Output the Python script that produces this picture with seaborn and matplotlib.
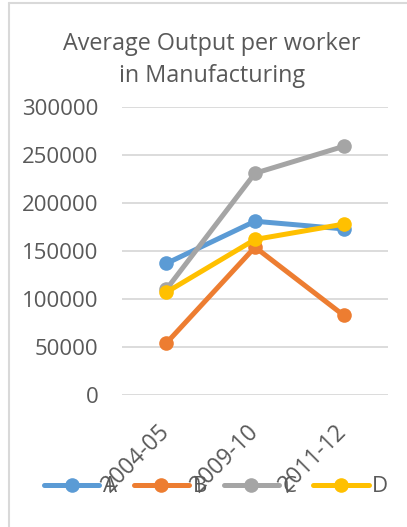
import matplotlib
matplotlib.use("Agg")
import matplotlib.pyplot as plt
from matplotlib.lines import Line2D
import seaborn as sns
import pandas as pd

periods = ["2004-05", "2009-10", "2011-12"]
series_names = ["A", "B", "C", "D"]
values_a = [137000, 181000, 173000]
values_b = [54000, 154000, 83000]
values_c = [110000, 231000, 259000]
values_d = [107000, 162000, 178000]
y_ticks = [0, 50000, 100000, 150000, 200000, 250000, 300000]
colors = ["#5B9BD5", "#ED7D31", "#A5A5A5", "#FFC000"]

rows = []
for name, vals in zip(series_names, [values_a, values_b, values_c, values_d]):
    for i, (p, v) in enumerate(zip(periods, vals)):
        rows.append({"period": p, "pos": i, "series": name, "value": v})
df = pd.DataFrame(rows)

sns.set_theme(style="white")
plt.rcParams["font.family"] = ["Open Sans", "DejaVu Sans"]
text_color = "#595959"

fig = plt.figure(figsize=(4.07, 5.27), dpi=100)
W, H = 407, 527
ax = fig.add_axes([122 / W, 1 - 395 / H, (388 - 122) / W, (395 - 107) / H])

sns.lineplot(data=df, x="pos", y="value", hue="series", palette=colors,
             marker="o", markersize=10.5, markeredgewidth=0, linewidth=3.6,
             ax=ax, legend=False, zorder=3)

ax.set_xlim(-0.5, 2.5)
ax.set_ylim(0, 300000)
ax.set_yticks(y_ticks)
ax.set_yticklabels([str(t) for t in y_ticks], fontsize=16, color=text_color)
ax.set_xticks(range(len(periods)))
ax.set_xticklabels(periods, fontsize=16.5, color=text_color, rotation=45,
                   ha="right", va="center", rotation_mode="anchor")
ax.tick_params(axis="x", length=0, pad=24)
ax.tick_params(axis="y", length=0, pad=17)
ax.grid(axis="y", color="#D9D9D9", linewidth=1.3)
ax.grid(axis="x", visible=False)
for s in ax.spines.values():
    s.set_visible(False)
ax.set_xlabel("")
ax.set_ylabel("")

fig.text(212 / W, 1 - 60 / H,
         "Average Output per worker\nin Manufacturing",
         ha="center", va="center", fontsize=16.8, color=text_color,
         linespacing=1.45)

handles = [Line2D([0], [0], color=c, linewidth=3.6, marker="o", markersize=10.5,
                  markeredgewidth=0) for c in colors]
fig.legend(handles, series_names, loc="center", bbox_to_anchor=(216 / W, 1 - 487 / H),
           ncol=4, frameon=False, fontsize=16, labelcolor=text_color,
           handlelength=2.5, handletextpad=0.15, columnspacing=0.75)

# chart frame edges
fig.add_artist(Line2D([9 / W, 9 / W], [0, 1 - 3 / H], color="#D9D9D9", linewidth=1.5,
                      transform=fig.transFigure))
fig.add_artist(Line2D([9 / W, 1], [1 - 3 / H, 1 - 3 / H], color="#D9D9D9", linewidth=1.5,
                      transform=fig.transFigure))

fig.savefig("out.png", dpi=100)
